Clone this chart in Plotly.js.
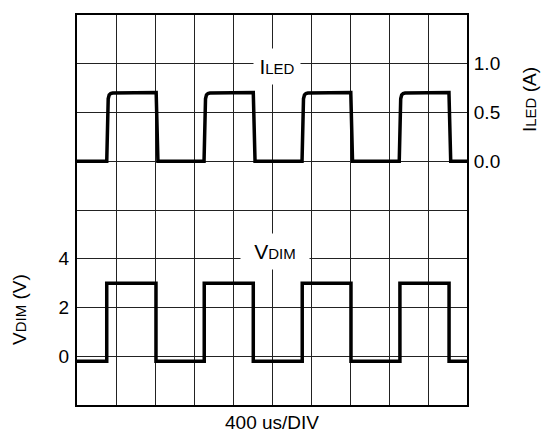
<!DOCTYPE html>
<html>
<head>
<meta charset="utf-8">
<script src="https://cdn.plot.ly/plotly-3.0.1.min.js"></script>
<style>
  html, body { margin: 0; padding: 0; background: #fff; }
  #chart { width: 543px; height: 432px; }
</style>
</head>
<body>
<div id="chart"></div>
<script>
// Time axis: 400 us per division, 10 divisions
const timeRange = [0, 4000];      // us
const timeDiv = 400;              // us / DIV

// I_LED waveform (time in us, current in A)
const iledT = [0,
  305, 320, 330, 345, 365, 812, 830,
  1303, 1318, 1328, 1343, 1363, 1808, 1826,
  2308, 2323, 2333, 2348, 2368, 2808, 2826,
  3305, 3320, 3330, 3345, 3365, 3815, 3833,
  4000];
const iledA = [0,
  0, 0.64, 0.68, 0.695, 0.70, 0.705, 0,
  0, 0.64, 0.68, 0.695, 0.70, 0.705, 0,
  0, 0.64, 0.68, 0.695, 0.70, 0.705, 0,
  0, 0.64, 0.68, 0.695, 0.70, 0.705, 0,
  0];

// V_DIM waveform (time in us, voltage in V)
const vdimT = [0,
  305, 305, 810, 810,
  1305, 1305, 1808, 1808,
  2310, 2310, 2810, 2810,
  3312, 3312, 3816, 3816,
  4000];
const vdimV = [-0.2,
  -0.2, 3.0, 3.0, -0.2,
  -0.2, 3.0, 3.0, -0.2,
  -0.2, 3.0, 3.0, -0.2,
  -0.2, 3.0, 3.0, -0.2,
  -0.2];

// I_LED axis: graticule lines every 0.5 A, labels only on three of them
const iledGrid = [-2.5, -2.0, -1.5, -1.0, -0.5, 0, 0.5, 1.0, 1.5];
const iledTickText = [" ", " ", " ", " ", " ", "0.0", "0.5", "1.0", " "];
// V_DIM axis labels
const vdimTicks = [0, 2, 4];
const vdimTickText = ["0", "2", "4"];

const iledRange = [-2.5, 1.5];   // 0.5 A / DIV, 8 DIV
const vdimRange = [-2, 14];      // 2 V / DIV, 8 DIV

const FONT = "Liberation Sans, Arial, Helvetica, sans-serif";

const traces = [
  { x: iledT, y: iledA, xaxis: "x", yaxis: "y", type: "scatter", mode: "lines",
    line: { color: "#000", width: 3.5 }, hoverinfo: "skip", showlegend: false },
  { x: vdimT, y: vdimV, xaxis: "x", yaxis: "y2", type: "scatter", mode: "lines",
    line: { color: "#000", width: 3.5 }, hoverinfo: "skip", showlegend: false }
];

const layout = {
  width: 543, height: 432,
  margin: { l: 77, r: 76, t: 15, b: 27 },
  paper_bgcolor: "#fff", plot_bgcolor: "#fff",
  font: { family: FONT, size: 19, color: "#000" },
  showlegend: false,
  xaxis: {
    range: timeRange, dtick: timeDiv, tick0: 0,
    showgrid: true, gridcolor: "#222", gridwidth: 1,
    showticklabels: false, ticks: "", zeroline: false,
    showline: true, mirror: true, linecolor: "#000", linewidth: 2,
    fixedrange: true
  },
  yaxis: {
    side: "right", range: iledRange,
    tickmode: "array", tickvals: iledGrid, ticktext: iledTickText,
    showgrid: true, gridcolor: "#222", gridwidth: 1,
    ticks: "", zeroline: false, ticklabelstandoff: 1,
    showline: true, mirror: true, linecolor: "#000", linewidth: 2,
    tickfont: { family: FONT, size: 19, color: "#000" },
    fixedrange: true
  },
  yaxis2: {
    overlaying: "y", side: "left", anchor: "x",
    range: vdimRange, tickmode: "array", tickvals: vdimTicks, ticktext: vdimTickText,
    showgrid: false, zeroline: false, showline: false, ticks: "",
    ticklabelstandoff: 7,
    tickfont: { family: FONT, size: 19, color: "#000" },
    fixedrange: true
  },
  annotations: [
    { text: 'I<span style="font-size:15px">LED</span>',
      xref: "x", yref: "y", x: 2050, y: 0.97,
      showarrow: false, bgcolor: "#fff", width: 44, height: 33,
      font: { family: FONT, size: 21, color: "#000" } },
    { text: 'V<span style="font-size:15px">DIM</span>',
      xref: "x", yref: "y2", x: 2030, y: 4.3,
      showarrow: false, bgcolor: "#fff", width: 66, height: 33,
      font: { family: FONT, size: 21, color: "#000" } },
    { text: "400 us/DIV",
      xref: "x", yref: "paper", x: 2000, y: 0, yanchor: "middle", yshift: -17,
      showarrow: false, font: { family: FONT, size: 19, color: "#000" } },
    { text: 'I<span style="font-size:15px">LED</span> (A)',
      xref: "paper", yref: "paper", x: 1, xshift: 62, y: 0.782,
      xanchor: "center", yanchor: "middle", textangle: -90,
      showarrow: false, font: { family: FONT, size: 19, color: "#000" } },
    { text: 'V<span style="font-size:15px">DIM</span> (V)',
      xref: "paper", yref: "paper", x: 0, xshift: -57, y: 0.2436,
      xanchor: "center", yanchor: "middle", textangle: -90,
      showarrow: false, font: { family: FONT, size: 19, color: "#000" } }
  ]
};

Plotly.newPlot("chart", traces, layout, { staticPlot: true, displayModeBar: false });
</script>
</body>
</html>
